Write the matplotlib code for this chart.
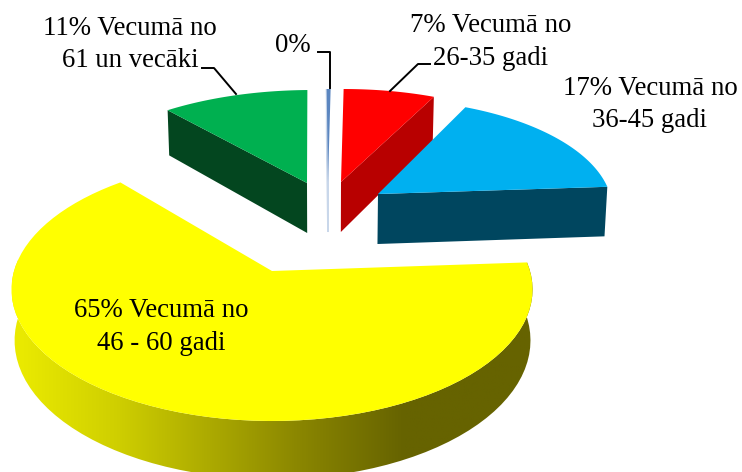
import matplotlib
matplotlib.use("Agg")
import matplotlib.pyplot as plt
import numpy as np
from matplotlib.colors import LinearSegmentedColormap
from matplotlib.patches import Polygon

plt.rcParams["font.family"] = ["Liberation Serif", "DejaVu Serif"]

# clockwise from 12 o'clock
age_groups = ["26-35", "36-45", "46-60", "61+", "other"]
shares = [7, 17, 65, 11, 0.3]

top_colors = ["#ff0000", "#00b0f0", "#ffff00", "#00b050", "#5b86c0"]
side_colors = ["#b80000", "#00465f", None, "#03461f", "#c9d7ea"]

# apex x, apex y, rx, ry, lean of each slice on the page
geometry = [
    (341, 182, 240, 106, 3),
    (378, 194, 232, 108, 0),
    (272, 271, 258, 129, 0),
    (307, 183, 243, 106, 5),
    (328, 182, 240, 106, 3),
]
perspective = 0.14
depth = 50
vanish_x = 325

edges = np.cumsum([0] + shares) / sum(shares) * 2 * np.pi


def rim(angle, g):
    u, v = np.sin(angle), np.cos(angle)
    s = 1 / (1 + perspective * v)
    return g[0] + (g[2] * u + g[4] * v) * s, g[1] - g[3] * v * s, s


def lower(x):
    # bottom of the pie is a little narrower than the top
    return vanish_x + (np.asarray(x) - vanish_x) * 0.99


fig = plt.figure(figsize=(7.42, 4.72), dpi=100)
ax = fig.add_axes([0, 0, 1, 1])
ax.set_xlim(0, 742)
ax.set_ylim(472, 0)
ax.axis("off")

shade = LinearSegmentedColormap.from_list(
    "rim", [(0, "#ecec00"), (0.2, "#cfcf00"), (0.55, "#8a8600"), (0.75, "#666300"), (1, "#666300")]
)

# back slices first, blue sits over the red wall
for i in [3, 4, 0, 1, 2]:
    g = geometry[i]
    angles = np.linspace(edges[i], edges[i + 1], 80)
    x, y, s = rim(angles, g)
    top = np.column_stack([np.r_[g[0], x], np.r_[g[1], y]])

    if i == 2:
        wall = np.vstack([np.column_stack([x, y]), np.column_stack([lower(x), y + depth * s])[::-1]])
        clip = Polygon(wall, transform=ax.transData, fc="none", ec="none")
        ax.add_patch(clip)
        im = ax.imshow(
            np.linspace(0, 1, 256).reshape(1, -1), cmap=shade, vmin=0, vmax=1,
            extent=(12, 535, 472, 260), aspect="auto", zorder=1,
        )
        im.set_clip_path(clip)
    else:
        # the cut face turned towards the viewer
        a = edges[i + 1] if i in (0, 1) else edges[i]
        ex, ey, es = rim(a, g)
        wall = [(g[0], g[1]), (ex, ey), (lower(ex), ey + depth * es), (lower(g[0]), g[1] + depth)]
        ax.add_patch(Polygon(wall, fc=side_colors[i], ec=side_colors[i] if i == 4 else "none",
                             lw=1.2, zorder=1 + i * 0.1))

    ax.add_patch(Polygon(top, fc=top_colors[i], ec="none", zorder=1.5 + i * 0.1))

ax.set_xlim(0, 742)
ax.set_ylim(472, 0)

# leader lines
ax.plot([202, 214, 236], [68, 68, 94], color="black", lw=1.4, zorder=5)
ax.plot([318, 330, 330], [52, 52, 88], color="black", lw=1.4, zorder=5)
ax.plot([430, 418, 390], [64, 64, 91], color="black", lw=1.4, zorder=5)

labels = [
    (130, 44.5, "11% Vecumā no\n61 un vecāki"),
    (293, 45, "0%"),
    (491, 42, "7% Vecumā no\n26-35 gadi"),
    (650, 104.5, "17% Vecumā no\n36-45 gadi"),
    (161, 327, "65% Vecumā no\n46 - 60 gadi"),
]
for lx, ly, txt in labels:
    ax.text(lx, ly, txt, ha="center", va="center", fontsize=19.3, color="black",
            linespacing=1.42, zorder=6)

fig.savefig("out.png", dpi=100)
